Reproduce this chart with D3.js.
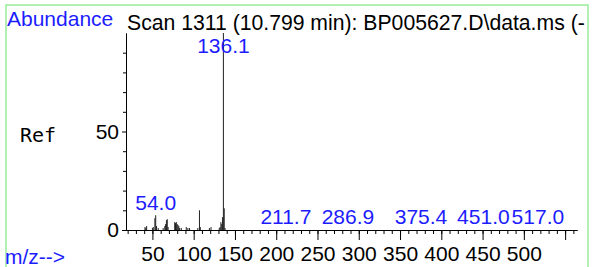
<!DOCTYPE html>
<html>
<head>
<meta charset="utf-8">
<script src="https://cdn.jsdelivr.net/npm/d3@7"></script>
<style>
  body { margin: 0; background: #fff; }
  svg { display: block; }
  text { font-family: 'Liberation Sans', Arial, sans-serif; }
</style>
</head>
<body>
<div id="chart"></div>
<script>
// spectrum peaks (m/z, abundance %)
let peakMz = [41, 42, 43, 50, 51, 53, 54, 55, 57, 63, 65, 66, 67, 68, 69, 77, 78, 79, 80, 81, 82, 83, 85, 91, 93, 95, 105, 107, 108, 119, 121, 131, 132, 133, 134, 135, 136, 137, 138]
let peakAbund = [1.5, 1, 2, 1, 1.5, 6, 7.5, 2, 1, 1, 2, 3, 5, 5.5, 1.5, 4, 3.5, 4, 3, 2.5, 2, 1, 1, 1.5, 1, 1, 1, 10, 1.5, 1, 1.5, 1, 1.5, 4, 3, 6.5, 100, 11, 1]

// labelled peaks
let labelMz = [54.0, 136.1, 211.7, 286.9, 375.4, 451.0, 517.0]
let labelAbund = [7.5, 100, 0.3, 0.3, 0.3, 0.3, 0.3]

// ticks
let xMinorTicks = d3.range(20, 570, 10)
let xMajorTicks = [50, 100, 150, 200, 250, 300, 350, 400, 450, 500, 550]
let xLabelMax = 500
let yMinorTicks = [0, 10, 20, 30, 40, 60, 70, 80, 90]
let yMajorTicks = [0, 50]

let width = 592
let height = 267
let blue = '#1c1cff'

let svg = d3
  .select('#chart')
  .append('svg')
  .attr('width', width)
  .attr('height', height)

let xScale = d3.scaleLinear().domain([18, 564.4]).range([126, 577])
let yScale = d3.scaleLinear().domain([0, 100]).range([230, 33])

// frame
svg
  .append('defs')
  .append('clipPath')
  .attr('id', 'frame-clip')
  .append('rect')
  .attr('x', 6)
  .attr('y', 5)
  .attr('width', 582)
  .attr('height', 270)

svg
  .append('rect')
  .attr('x', 6)
  .attr('y', 5)
  .attr('width', 582)
  .attr('height', 280)
  .attr('fill', 'none')
  .attr('stroke', '#98ec98')
  .attr('stroke-width', 1.5)

let g = svg.append('g').attr('clip-path', 'url(#frame-clip)')

// x axis: minor then major ticks
g.append('g')
  .attr('transform', `translate(0, ${yScale(0)})`)
  .call(
    d3.axisBottom(xScale)
      .tickValues(xMinorTicks)
      .tickSize(4)
      .tickSizeOuter(0)
      .tickFormat('')
  )

g.append('g')
  .attr('class', 'x-major')
  .attr('transform', `translate(0, ${yScale(0)})`)
  .call(
    d3.axisBottom(xScale)
      .tickValues(xMajorTicks)
      .tickSize(10)
      .tickSizeOuter(0)
      .tickPadding(6)
      .tickFormat(d => (d <= xLabelMax ? d : ''))
  )

// y axis
g.append('g')
  .attr('transform', `translate(${xScale.range()[0]}, 0)`)
  .call(
    d3.axisLeft(yScale)
      .tickValues(yMinorTicks)
      .tickSize(3)
      .tickSizeOuter(0)
      .tickFormat('')
  )

g.append('g')
  .attr('transform', `translate(${xScale.range()[0]}, 0)`)
  .call(
    d3.axisLeft(yScale)
      .tickValues(yMajorTicks)
      .tickSize(4)
      .tickSizeOuter(0)
      .tickPadding(3)
  )

g.selectAll('.tick text')
  .attr('font-size', '21px')
  .attr('fill', '#000')
g.selectAll('.domain').attr('stroke', '#000')

// peaks
g.append('g')
  .selectAll('.peak')
  .data(peakMz)
  .enter()
  .append('line')
  .attr('class', 'peak')
  .attr('x1', d => xScale(d))
  .attr('x2', d => xScale(d))
  .attr('y1', yScale(0))
  .attr('y2', (d, i) => yScale(peakAbund[i]))
  .attr('stroke', '#222')
  .attr('stroke-width', 1)

// peak labels
g.append('g')
  .selectAll('.peak-label')
  .data(labelMz)
  .enter()
  .append('text')
  .attr('class', 'peak-label')
  .attr('x', d => xScale(d))
  .attr('y', (d, i) => Math.max(yScale(labelAbund[i]) - 5, yScale(90)))
  .attr('text-anchor', 'middle')
  .attr('font-size', '21px')
  .attr('fill', blue)
  .text(d => d.toFixed(1))

// texts
g.append('text')
  .attr('x', 7)
  .attr('y', 26)
  .attr('font-size', '21px')
  .attr('fill', blue)
  .text('Abundance')

g.append('text')
  .attr('x', 127)
  .attr('y', 30)
  .attr('font-size', '21.2px')
  .attr('fill', '#000')
  .text('Scan 1311 (10.799 min): BP005627.D\\data.ms (-')

g.append('text')
  .attr('x', 20)
  .attr('y', 142)
  .attr('font-size', '20px')
  .style('font-family', "'DejaVu Sans Mono', monospace")
  .attr('fill', '#000')
  .text('Ref')

g.append('text')
  .attr('x', 5)
  .attr('y', 264)
  .attr('font-size', '21px')
  .attr('fill', blue)
  .text('m/z-->')
</script>
</body>
</html>
